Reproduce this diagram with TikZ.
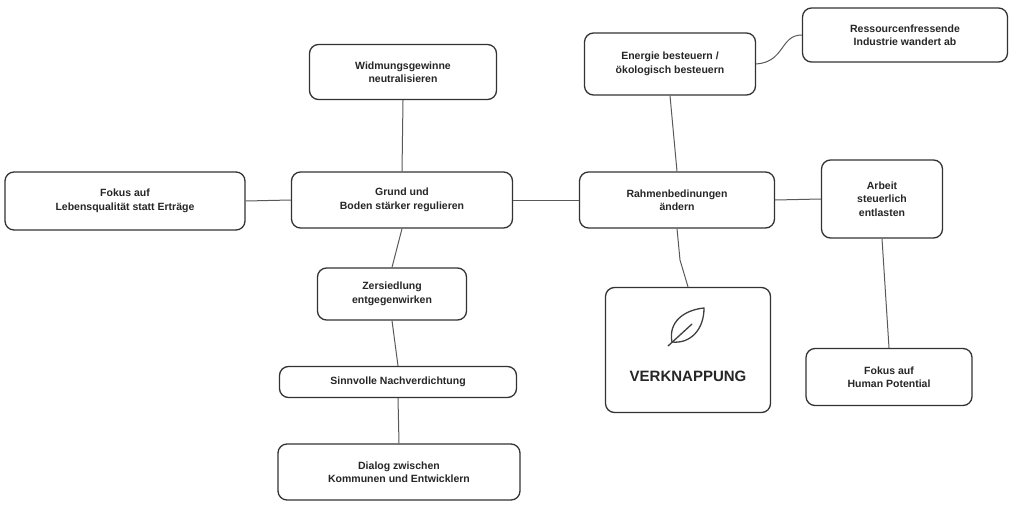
\documentclass[tikz,border=0pt]{standalone}
\usepackage{fontspec}
\setmainfont{Liberation Sans}
\begin{document}
\begin{tikzpicture}[x=1pt,y=-1pt,
  box/.style={draw=black!80,line width=1.3pt,rounded corners=9pt,fill=white,align=center,font=\bfseries\fontsize{10.5}{13.5}\selectfont,text=black!85,inner sep=0pt},
  conn/.style={draw=black!65,line width=1pt}]
\useasboundingbox (0,0) rectangle (1024,508);
\node[box,minimum width=187pt,minimum height=55pt] (wid) at (403,72) {Widmungsgewinne\\neutralisieren};
\node[box,minimum width=240pt,minimum height=58pt] (leb) at (125,201) {Fokus auf\\Lebensqualität statt Erträge};
\node[box,minimum width=221pt,minimum height=56pt] (gru) at (402,200) {Grund und\\Boden stärker regulieren};
\node[box,minimum width=149pt,minimum height=52pt] (zer) at (392,294) {Zersiedlung\\entgegenwirken};
\node[box,minimum width=237pt,minimum height=31pt] (sin) at (398,382) {Sinnvolle Nachverdichtung};
\node[box,minimum width=242pt,minimum height=56pt] (dia) at (399,472) {Dialog zwischen\\Kommunen und Entwicklern};
\node[box,minimum width=171pt,minimum height=62pt] (ene) at (670,64) {Energie besteuern /\\ökologisch besteuern};
\node[box,minimum width=205pt,minimum height=54pt] (res) at (905,35) {Ressourcenfressende\\Industrie wandert ab};
\node[box,minimum width=195pt,minimum height=56pt] (rah) at (677,200) {Rahmenbedinungen\\ändern};
\node[box,minimum width=121pt,minimum height=78pt] (arb) at (882,199) {Arbeit\\steuerlich\\entlasten};
\node[box,minimum width=165pt,minimum height=125pt] (ver) at (688,350) {};
\node[font=\bfseries\fontsize{15}{18}\selectfont,text=black!85] (vtx) at (688,376) {VERKNAPPUNG};
\node[box,minimum width=166pt,minimum height=57pt] (hum) at (889,377) {Fokus auf\\Human Potential};
% leaf icon
\draw[black!75,line width=1.3pt,line cap=round,line join=round]
  (672,342) .. controls (668,322) and (684,310) .. (704,308)
  .. controls (704,330) and (690,344) .. (672,342);
\draw[black!75,line width=1.3pt,line cap=round] (668,346) -- (692,324);
% connectors
\draw[conn] (wid.south) -- (gru.north);
\draw[conn] (leb.east) -- (gru.west);
\draw[conn] (gru.east) -- (rah.west);
\draw[conn] (gru.south) -- (zer.north);
\draw[conn] (zer.south) -- (sin.north);
\draw[conn] (sin.south) -- (dia.north);
\draw[conn] (ene.south) -- (rah.north);
\draw[conn] (ene.east) .. controls (785,62) and (780,35) .. (res.west);
\draw[conn] (rah.east) -- (arb.west);
\draw[conn] (rah.south) -- (680,260) -- (ver.north);
\draw[conn] (arb.south) -- (hum.north);
\end{tikzpicture}
\end{document}
